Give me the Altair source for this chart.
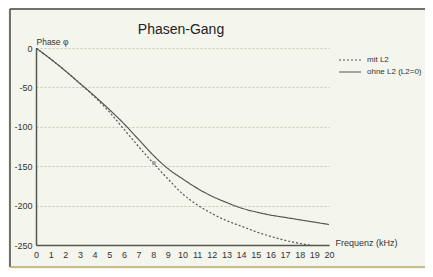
import altair as alt
import pandas as pd

freq = list(range(21))
mit_l2 = [0, -14, -29, -45, -62, -81, -103, -125, -146, -166, -185, -199, -210, -219, -226, -233, -239, -244, -248, -251, None]
ohne_l2 = [0, -14, -29, -45, -61, -78, -96, -116, -136, -153, -166, -178, -188, -196, -203, -208, -212, -215, -218, -221, -224]
series = ["mit L2", "ohne L2 (L2=0)"]
marker_x = [8.05]
marker_y = [-146]
y_ticks = [0, -50, -100, -150, -200, -250]
x_ticks = list(range(21))
title_text = ["Phasen-Gang"]

rows = []
for name, vals in zip(series, [mit_l2, ohne_l2]):
    for f, v in zip(freq, vals):
        if v is not None:
            rows.append({"f": f, "phase": v, "series": name})
df = pd.DataFrame(rows)

xs = alt.Scale(domain=[0, 20], nice=False)
ys = alt.Scale(domain=[-250, 0], nice=False)

x_axis = alt.Axis(
    values=x_ticks, tickSize=0, labelPadding=5, grid=False, labelFontSize=9,
    labelOverlap=False, labelFlush=False, labelColor="#333", domainColor="#555", domainWidth=1.5,
    title="Frequenz (kHz)", titleX=299, titleY=-3, titleAlign="left",
    titleBaseline="middle", titleFontSize=9, titleFontWeight="normal", titleColor="#333")
y_axis = alt.Axis(
    values=y_ticks, tickSize=0, labelPadding=4, grid=True, gridDash=[2, 2],
    gridColor="#c5c9ae", labelFontSize=9, labelColor="#333", labelOverlap=False,
    labelFlush=False, labelExpr="'' + datum.value",
    domainColor="#555", domainWidth=1.5,
    title="Phase φ", titleAngle=0, titleX=0, titleY=-4, titleAlign="left",
    titleBaseline="alphabetic", titleFontSize=8.5, titleFontWeight="normal", titleColor="#333")

lines = alt.Chart(df).mark_line(interpolate="monotone", clip=True, color="#555", strokeWidth=1.2).encode(
    x=alt.X("f:Q", scale=xs, axis=x_axis),
    y=alt.Y("phase:Q", scale=ys, axis=y_axis),
    strokeDash=alt.StrokeDash("series:N", scale=alt.Scale(domain=series, range=[[2, 2], [1, 0]]),
        legend=alt.Legend(title=None, orient="none", legendX=302, legendY=6,
            symbolType="stroke", symbolSize=484, symbolStrokeColor="#555", symbolStrokeWidth=1.2,
            clipHeight=12, labelFontSize=8, labelColor="#333", rowPadding=0, labelOffset=5,
            labelLimit=120)),
)

mdf = pd.DataFrame({"f": marker_x, "phase": marker_y})
marker = alt.Chart(mdf).mark_point(shape="square", filled=True, size=14, color="#9a9a9a", opacity=0.9).encode(
    x=alt.X("f:Q", scale=xs, axis=x_axis), y=alt.Y("phase:Q", scale=ys, axis=y_axis))

tdf = pd.DataFrame({"t": title_text})
title = alt.Chart(tdf).mark_text(fontSize=14, color="#222", align="center", baseline="alphabetic").encode(
    x=alt.value(145), y=alt.value(-14), text="t:N")

frame_left = alt.Chart(mdf).mark_rule(color="#444", strokeWidth=1.5).encode(
    x=alt.value(-26), y=alt.value(-39), y2=alt.value(219))
frame_top = alt.Chart(mdf).mark_rule(color="#444", strokeWidth=1.5).encode(
    x=alt.value(-26), x2=alt.value(389), y=alt.value(-39))
frame_bottom = alt.Chart(mdf).mark_rule(color="#b9a86a", strokeWidth=1.5).encode(
    x=alt.value(-26), x2=alt.value(389), y=alt.value(219))

chart = alt.layer(lines, marker, frame_left, frame_top, frame_bottom, title).properties(
    width=293, height=197,
    padding={"left": 28, "top": 40, "right": 96, "bottom": 24},
    autosize=alt.AutoSizeParams(type="none"),
    background="#f4f6ee",
)
chart = chart.configure(font="Liberation Sans").configure_view(stroke=None).configure_axis(labelOverlap=False)

chart.save("out.html", embed_options={"renderer": "svg", "actions": False})
